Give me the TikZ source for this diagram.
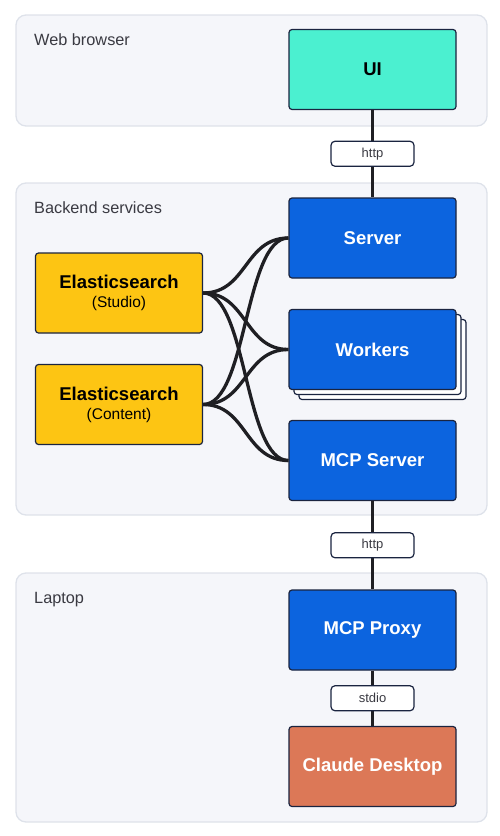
\documentclass[tikz,border=0pt]{standalone}
\usepackage{fontspec}
\setmainfont{Liberation Sans}
\usetikzlibrary{positioning}

\definecolor{grpfill}{HTML}{F5F6FA}
\definecolor{grpline}{HTML}{DEE2EA}
\definecolor{navy}{HTML}{1A2440}
\definecolor{uiteal}{HTML}{4BF0D0}
\definecolor{svcblue}{HTML}{0C64DF}
\definecolor{esyellow}{HTML}{FDC513}
\definecolor{claude}{HTML}{DC7857}
\definecolor{wirecol}{HTML}{1F1F23}
\definecolor{grptext}{HTML}{3A3A42}

\begin{document}
\begin{tikzpicture}[x=1pt,y=-1pt,
group/.style={rectangle, rounded corners=10pt, fill=grpfill, draw=grpline, line width=1.3pt},
grouplabel/.style={anchor=base west, inner sep=0pt, text=grptext, font=\fontsize{16.3}{19}\selectfont},
box/.style={rectangle, rounded corners=3pt, draw=navy, line width=1.2pt,
  minimum width=167pt, minimum height=80pt, align=center, font=\fontsize{18.5}{21}\selectfont\bfseries},
svc/.style={box, fill=svcblue, text=white},
pill/.style={rectangle, rounded corners=4pt, fill=white, draw=navy, line width=1.2pt,
  minimum width=83pt, minimum height=25pt, inner sep=0pt, text=grptext, font=\fontsize{13}{15}\selectfont},
wire/.style={line width=3.3pt, draw=wirecol}]

\useasboundingbox (0,0) rectangle (499,836);

% groups
\node[group, minimum width=471pt, minimum height=111pt] at (251.5,70.5) (web) {};
\node[grouplabel] at (34,45) (weblabel) {Web browser};

\node[group, minimum width=471pt, minimum height=332pt] at (251.5,349) (backend) {};
\node[grouplabel] at (34,213) (backendlabel) {Backend services};

\node[group, minimum width=471pt, minimum height=249pt] at (251.5,697.5) (laptop) {};
\node[grouplabel] at (34,603) (laptoplabel) {Laptop};

% nodes
\node[box, fill=uiteal] at (372.5,69.5) (ui) {UI};
\node[svc] at (372.5,238) (server) {Server};

\node[box, fill=white] at (382.5,359.5) (workers3) {};
\node[box, fill=white] at (377.5,354.5) (workers2) {};
\node[svc] at (372.5,349.5) (workers) {Workers};

\node[svc] at (372.5,460.5) (mcpserver) {MCP Server};
\node[svc] at (372.5,630) (mcpproxy) {MCP Proxy};
\node[box, fill=claude, text=white] at (372.5,766.5) (desktop) {Claude Desktop};

\node[box, fill=esyellow] at (119,293) (esstudio) {Elasticsearch\\[-2pt]
{\fontsize{15.5}{17}\selectfont\mdseries (Studio)}};
\node[box, fill=esyellow] at (119,404.5) (escontent) {Elasticsearch\\[-2pt]
{\fontsize{15.5}{17}\selectfont\mdseries (Content)}};

% connectors
\foreach \src in {esstudio,escontent}
  \foreach \dst in {server,workers,mcpserver}
    \draw[wire] (\src.east) .. controls +(44,0) and +(-44,0) .. (\dst.west);

\draw[wire] (ui.south) -- (server.north) node[pill, midway] (http1) {http};
\draw[wire] (mcpserver.south) -- (mcpproxy.north) node[pill, midway] (http2) {http};
\draw[wire] (mcpproxy.south) -- (desktop.north) node[pill, midway] (stdio) {stdio};

\end{tikzpicture}
\end{document}
